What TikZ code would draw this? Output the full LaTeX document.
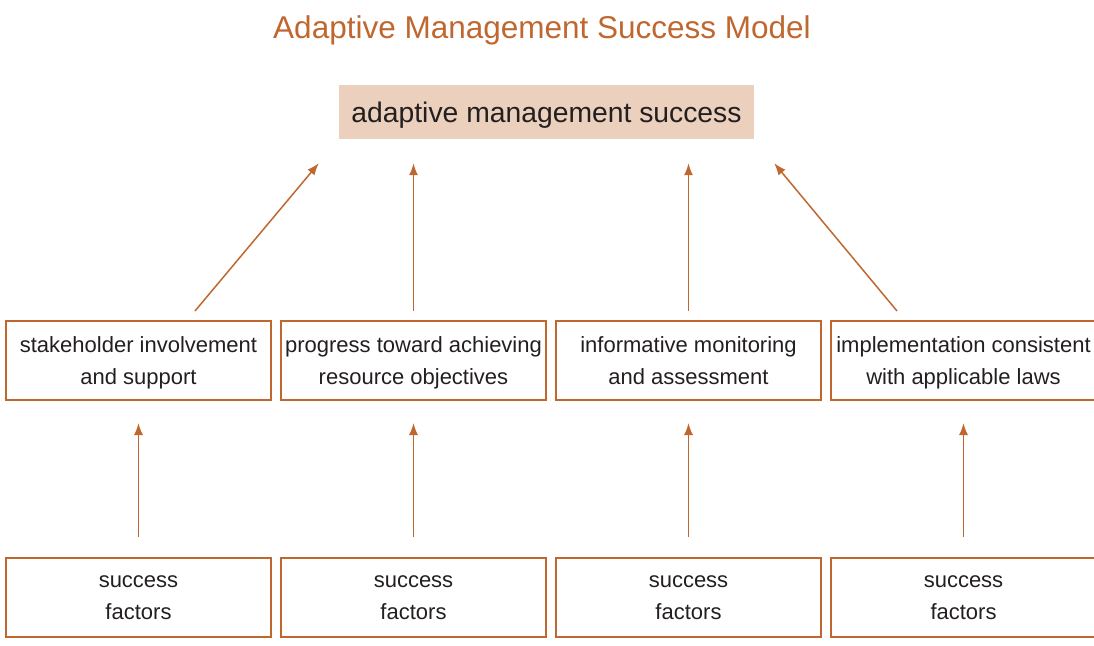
\documentclass[tikz,border=0pt]{standalone}
\usepackage{fontspec}
\setmainfont{Liberation Sans}
\usepackage{tikz}
\usetikzlibrary{arrows.meta, positioning}
\definecolor{rust}{HTML}{C0672F}
\definecolor{sand}{HTML}{EBD0BD}
\definecolor{ink}{HTML}{231F20}

\begin{document}
\begin{tikzpicture}[x=1pt, y=-1pt, node distance={10pt},
	main/.style = {draw=rust, line width=1.6pt, outer sep=0pt, minimum width=265pt, minimum height=79pt, inner sep=0pt, text depth=-2pt, align=center, text=ink, font=\fontsize{22}{32}\selectfont},
	factor/.style = {main, text depth=-5pt},
	goal/.style = {fill=sand, minimum width=415pt, minimum height=54pt, inner sep=0pt, text height=24pt, text depth=3.4pt, text=ink, font=\fontsize{28.3}{34}\selectfont},
	link/.style = {-{Latex[length=12pt, width=9pt]}, draw=rust, line width=1.5pt}]
			\useasboundingbox (0,0) rectangle (1094,645);
			\node[text=rust, font=\fontsize{31.5}{36}\selectfont] (t) at (542,30) {Adaptive Management Success Model};
			\node[goal] (g) at (546.5,112) {adaptive management success};
			\node[main] (1) at (138.5,360.5) {stakeholder involvement\\and support};
			\node[main] (2) [right=of 1] {progress toward achieving\\resource objectives};
			\node[main] (3) [right=of 2] {informative monitoring\\and assessment};
			\node[main] (4) [right=of 3] {implementation consistent\\with applicable laws};
			\node[factor] (5) at (138.5,597.5) {success\\factors};
			\node[factor] (6) [right=of 5] {success\\factors};
			\node[factor] (7) [right=of 6] {success\\factors};
			\node[factor] (8) [right=of 7] {success\\factors};
			
			\draw[link] ([xshift=56.5pt, yshift=10pt]1.north) -- ([xshift=-20pt, yshift=-24pt]g.south west);
			\draw[link, shorten <=10pt, shorten >=24pt] (2.north) -- (2.north |- g.south);
			\draw[link, shorten <=10pt, shorten >=24pt] (3.north) -- (3.north |- g.south);
			\draw[link] ([xshift=-66.5pt, yshift=10pt]4.north) -- ([xshift=20pt, yshift=-24pt]g.south east);
			\draw[link, shorten <=21pt, shorten >=23pt] (5) -- (1);
			\draw[link, shorten <=21pt, shorten >=23pt] (6) -- (2);
			\draw[link, shorten <=21pt, shorten >=23pt] (7) -- (3);
			\draw[link, shorten <=21pt, shorten >=23pt] (8) -- (4);
		\end{tikzpicture}
\end{document}
